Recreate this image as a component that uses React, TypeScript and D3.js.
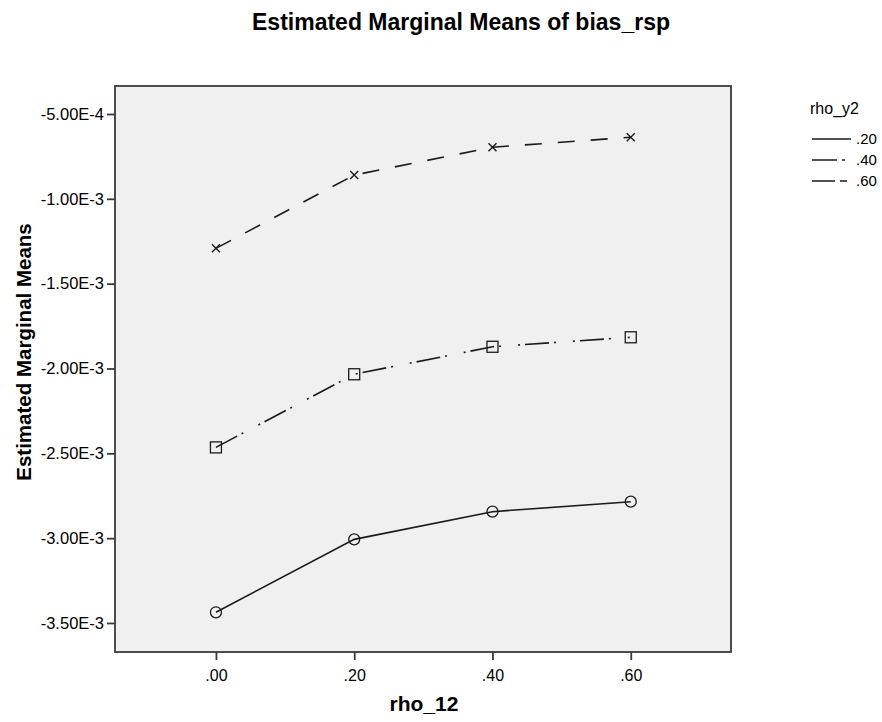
import { useEffect, useRef } from "react";
import * as d3 from "d3";

const WIDTH = 882;
const HEIGHT = 722;
const PLOT = { left: 115, right: 731, top: 86, bottom: 652 };

// rho_12 levels on the x axis
const rho12 = [0, 0.2, 0.4, 0.6];
const xTicks = [0, 0.2, 0.4, 0.6];
const yTicks = [-5e-4, -1e-3, -1.5e-3, -2e-3, -2.5e-3, -3e-3, -3.5e-3];

// estimated marginal means per rho_y2 level
const bias20 = [-3.437e-3, -3.007e-3, -2.844e-3, -2.785e-3];
const bias40 = [-2.465e-3, -2.034e-3, -1.872e-3, -1.816e-3];
const bias60 = [-1.292e-3, -0.86e-3, -0.696e-3, -0.637e-3];

const seriesNames = [".20", ".40", ".60"];

const FONT = "'Liberation Sans', Arial, sans-serif";
const INK = "#1a1a1a";

type Pt = { x: number; y: number };

// SPSS style labels: -5.00E-4 and .20
const fmtY = (v: number) => v.toExponential(2).toUpperCase().replace("E+", "E");
const fmtX = (v: number) => d3.format(".2f")(v).replace(/^0/, "");

export default function App() {
  const svgRef = useRef<SVGSVGElement | null>(null);

  useEffect(() => {
    if (!svgRef.current) return;
    const svg = d3.select(svgRef.current);
    svg.selectAll("*").remove();

    const x = d3.scaleLinear().domain([-0.146, 0.745]).range([PLOT.left, PLOT.right]);
    const y = d3.scaleLinear().domain([-3.671e-3, -3.35e-4]).range([PLOT.bottom, PLOT.top]);

    svg.append("rect").attr("width", WIDTH).attr("height", HEIGHT).attr("fill", "#fff");

    // plot background
    svg
      .append("rect")
      .attr("x", PLOT.left)
      .attr("y", PLOT.top)
      .attr("width", PLOT.right - PLOT.left)
      .attr("height", PLOT.bottom - PLOT.top)
      .attr("fill", "#f0f0f0")
      .attr("stroke", "#3a3a3a")
      .attr("stroke-width", 1.8);

    // title
    svg
      .append("text")
      .attr("x", 461)
      .attr("y", 30)
      .attr("text-anchor", "middle")
      .style("font-family", FONT)
      .style("font-weight", "bold")
      .style("font-size", "23px")
      .attr("fill", "#000")
      .text("Estimated Marginal Means of bias_rsp");

    // Y axis
    svg
      .append("g")
      .attr("transform", `translate(${PLOT.left},0)`)
      .call(d3.axisLeft(y).tickValues(yTicks).tickSize(8).tickPadding(3).tickFormat((v: any) => fmtY(+v)))
      .call((g: any) => {
        g.select(".domain").remove();
        g.selectAll("line").attr("stroke", "#3a3a3a").attr("stroke-width", 1.8);
        g.selectAll("text").attr("fill", "#000").style("font-family", FONT).style("font-size", "16.5px");
      });

    // X axis
    svg
      .append("g")
      .attr("transform", `translate(0,${PLOT.bottom})`)
      .call(d3.axisBottom(x).tickValues(xTicks).tickSize(8).tickPadding(10).tickFormat((v: any) => fmtX(+v)))
      .call((g: any) => {
        g.select(".domain").remove();
        g.selectAll("line").attr("stroke", "#3a3a3a").attr("stroke-width", 1.8);
        g.selectAll("text").attr("fill", "#000").style("font-family", FONT).style("font-size", "16px");
      });

    // axis titles
    svg
      .append("text")
      .attr("x", 424)
      .attr("y", 711)
      .attr("text-anchor", "middle")
      .style("font-family", FONT)
      .style("font-weight", "bold")
      .style("font-size", "21px")
      .text("rho_12");

    svg
      .append("text")
      .attr("transform", `translate(31,352) rotate(-90)`)
      .attr("text-anchor", "middle")
      .style("font-family", FONT)
      .style("font-weight", "bold")
      .style("font-size", "20.5px")
      .text("Estimated Marginal Means");

    const dashes = ["none", "24 5 2 17 2 5", "17 16"];
    const allSeries = [bias20, bias40, bias60];

    const line = d3
      .line<Pt>()
      .x((d) => x(d.x))
      .y((d) => y(d.y));

    allSeries.forEach((vals, i) => {
      const pts: Pt[] = rho12.map((r, j) => ({ x: r, y: vals[j] }));
      svg
        .append("path")
        .datum(pts)
        .attr("d", line)
        .attr("fill", "none")
        .attr("stroke", INK)
        .attr("stroke-width", 1.6)
        .attr("stroke-dasharray", dashes[i]);

      const marks = svg.append("g");
      pts.forEach((p) => {
        const cx = x(p.x);
        const cy = y(p.y);
        if (i === 0) {
          marks
            .append("circle")
            .attr("cx", cx)
            .attr("cy", cy)
            .attr("r", 5.5)
            .attr("fill", "none")
            .attr("stroke", INK)
            .attr("stroke-width", 1.3);
        } else if (i === 1) {
          marks
            .append("rect")
            .attr("x", cx - 5.5)
            .attr("y", cy - 5.5)
            .attr("width", 11)
            .attr("height", 11)
            .attr("fill", "none")
            .attr("stroke", INK)
            .attr("stroke-width", 1.3);
        } else {
          marks
            .append("path")
            .attr("d", `M${cx - 4},${cy - 4}L${cx + 4},${cy + 4}M${cx - 4},${cy + 4}L${cx + 4},${cy - 4}`)
            .attr("stroke", INK)
            .attr("stroke-width", 1.4);
        }
      });
    });

    // legend
    const legend = svg.append("g").attr("transform", "translate(812,0)");
    legend
      .append("text")
      .attr("x", -2)
      .attr("y", 114)
      .style("font-family", FONT)
      .style("font-size", "16px")
      .text("rho_y2");

    const legendDashes = ["none", "25 5 3 40", "23 5 7 40"];
    seriesNames.forEach((name, i) => {
      const ly = 139 + i * 21;
      legend
        .append("line")
        .attr("x1", 0)
        .attr("x2", 39)
        .attr("y1", ly)
        .attr("y2", ly)
        .attr("stroke", INK)
        .attr("stroke-width", 1.6)
        .attr("stroke-dasharray", legendDashes[i]);
      legend
        .append("text")
        .attr("x", 44)
        .attr("y", ly + 5)
        .style("font-family", FONT)
        .style("font-size", "15px")
        .text(name);
    });
  }, []);

  return (
    <svg
      ref={svgRef}
      width={WIDTH}
      height={HEIGHT}
      style={{ position: "absolute", left: 0, top: 0 }}
    />
  );
}
